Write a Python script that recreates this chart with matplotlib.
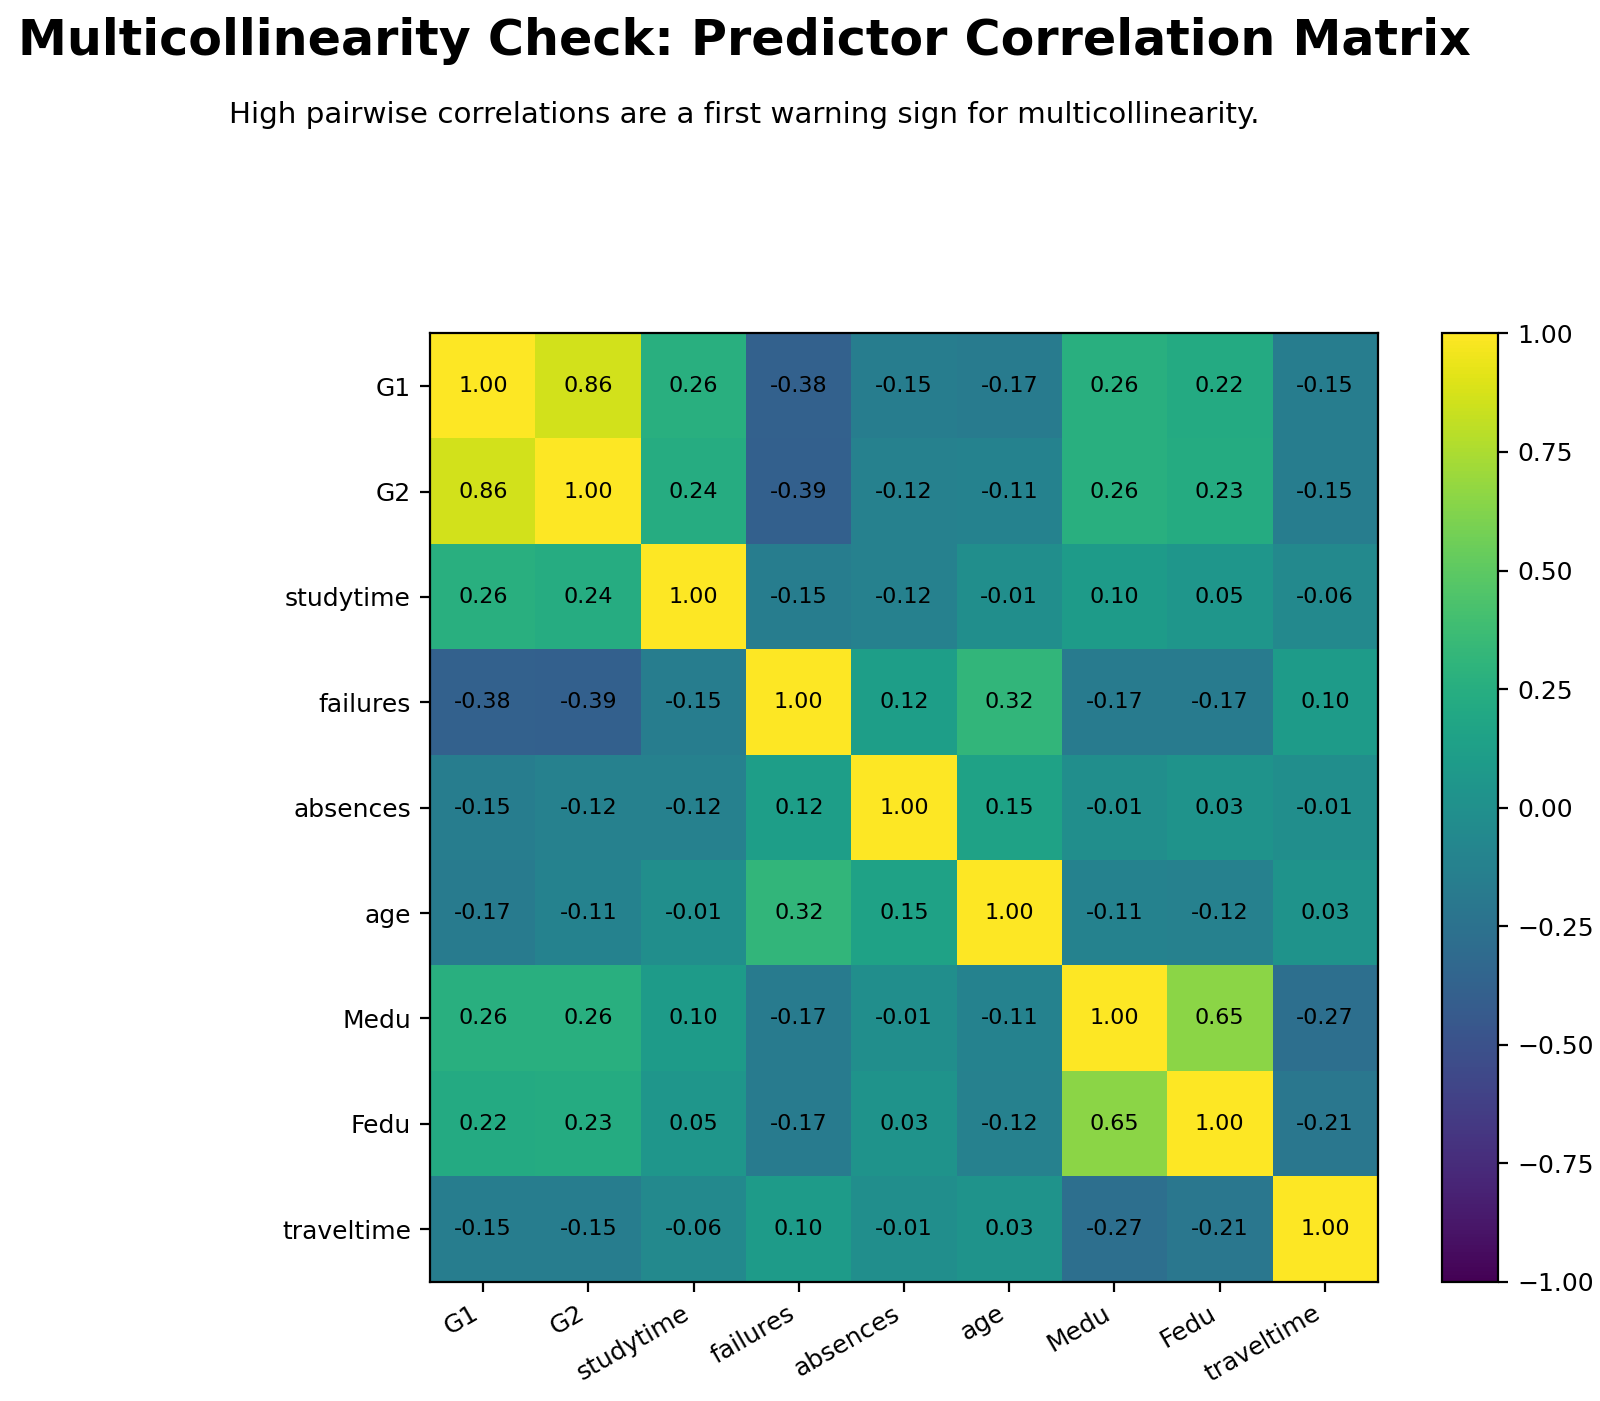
import numpy as np
import matplotlib
matplotlib.use("Agg")
import matplotlib.pyplot as plt

# predictor names, same order on both axes
predictors = ["G1", "G2", "studytime", "failures", "absences",
              "age", "Medu", "Fedu", "traveltime"]

row_G1 = [1.00, 0.86, 0.26, -0.38, -0.15, -0.17, 0.26, 0.22, -0.15]
row_G2 = [0.86, 1.00, 0.24, -0.39, -0.12, -0.11, 0.26, 0.23, -0.15]
row_studytime = [0.26, 0.24, 1.00, -0.15, -0.12, -0.01, 0.10, 0.05, -0.06]
row_failures = [-0.38, -0.39, -0.15, 1.00, 0.12, 0.32, -0.17, -0.17, 0.10]
row_absences = [-0.15, -0.12, -0.12, 0.12, 1.00, 0.15, -0.01, 0.03, -0.01]
row_age = [-0.17, -0.11, -0.01, 0.32, 0.15, 1.00, -0.11, -0.12, 0.03]
row_Medu = [0.26, 0.26, 0.10, -0.17, -0.01, -0.11, 1.00, 0.65, -0.27]
row_Fedu = [0.22, 0.23, 0.05, -0.17, 0.03, -0.12, 0.65, 1.00, -0.21]
row_traveltime = [-0.15, -0.15, -0.06, 0.10, -0.01, 0.03, -0.27, -0.21, 1.00]

corr = np.array([row_G1, row_G2, row_studytime, row_failures, row_absences,
                 row_age, row_Medu, row_Fedu, row_traveltime])

fig = plt.figure(figsize=(8, 7.005), dpi=200)
ax = fig.add_axes([0.269, 0.085, 0.592, 0.677])
cax = fig.add_axes([0.901, 0.085, 0.035, 0.677])

im = ax.imshow(corr, cmap="viridis", vmin=-1, vmax=1, aspect="auto")
fig.colorbar(im, cax=cax)

n = len(predictors)
ax.set_xticks(np.arange(n))
ax.set_yticks(np.arange(n))
ax.set_xticklabels(predictors, rotation=30, ha="right", fontsize=9)
ax.set_yticklabels(predictors, fontsize=9)
cax.tick_params(labelsize=9)

for i in range(n):
    for j in range(n):
        ax.text(j, i, f"{corr[i, j]:.2f}", ha="center", va="center",
                color="black", fontsize=8)

fig.text(0.465, 0.971, "Multicollinearity Check: Predictor Correlation Matrix",
         ha="center", va="center", fontsize=17.7, fontweight="bold")
fig.text(0.465, 0.918,
         "High pairwise correlations are a first warning sign for multicollinearity.",
         ha="center", va="center", fontsize=10.6)

fig.savefig("out.png", dpi=200)
